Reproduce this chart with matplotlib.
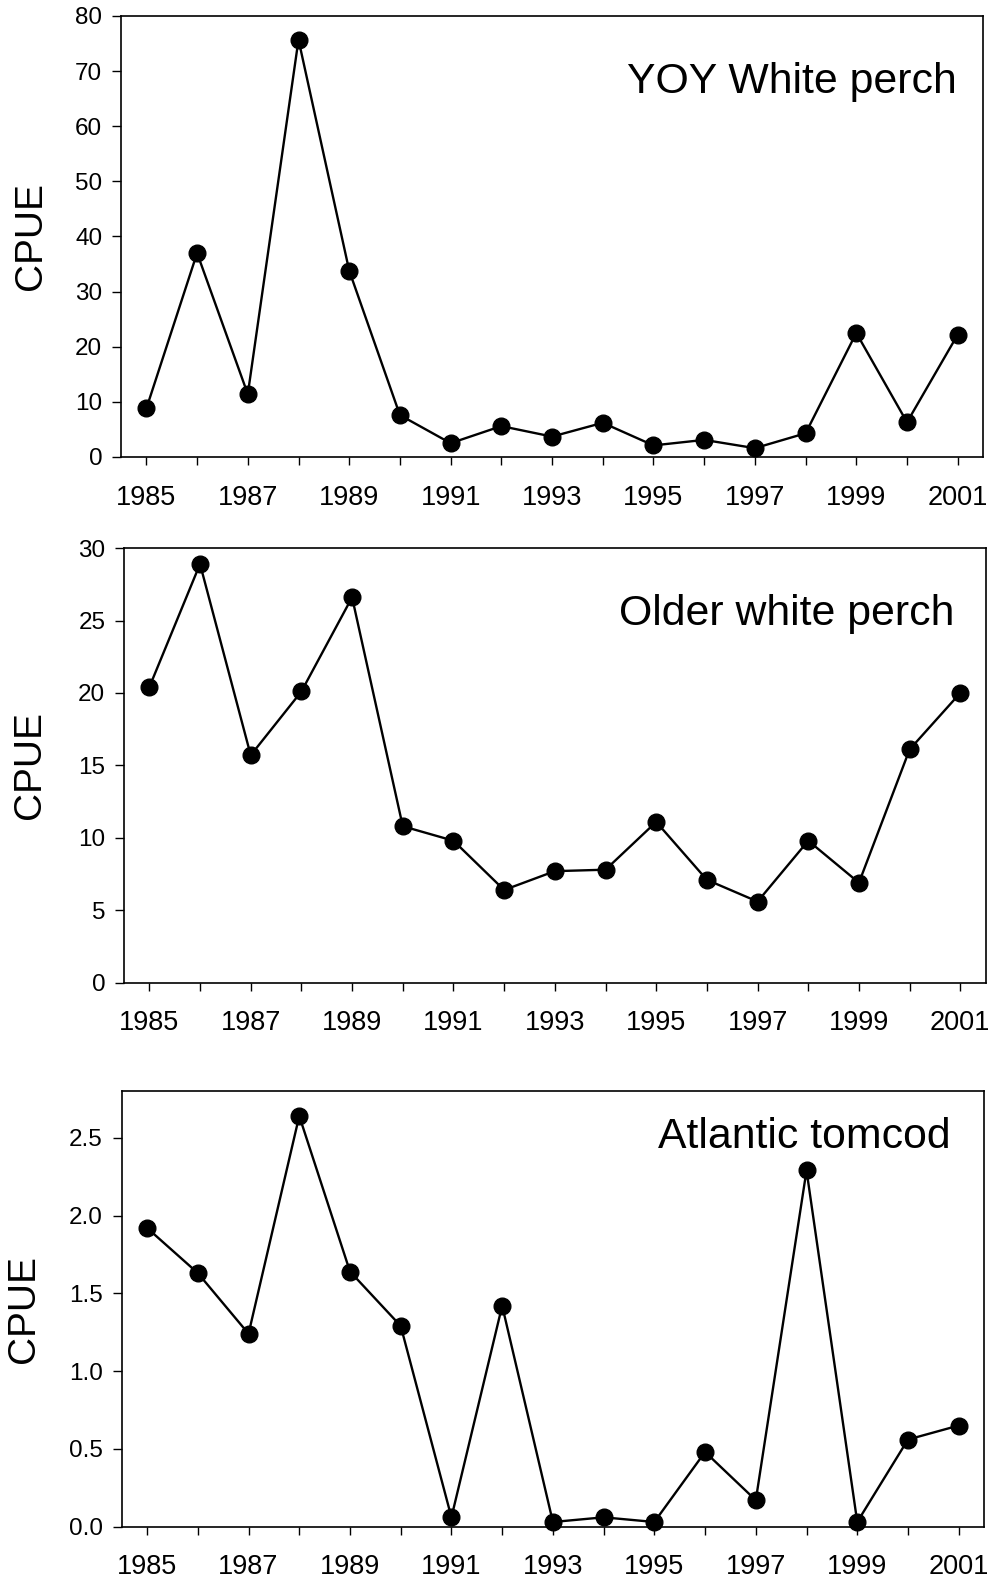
import matplotlib
matplotlib.use("Agg")
import matplotlib.pyplot as plt
import numpy as np

plt.rcParams['font.family'] = ['Liberation Sans', 'DejaVu Sans']

years = list(range(1985, 2002))

# CPUE values
yoy_white_perch = [8.8, 37.0, 11.4, 75.7, 33.8, 7.6, 2.5, 5.6, 3.7, 6.2,
                   2.1, 3.1, 1.6, 4.3, 22.5, 6.3, 22.2]
older_white_perch = [20.4, 28.9, 15.7, 20.1, 26.6, 10.8, 9.8, 6.4, 7.7, 7.8,
                     11.1, 7.1, 5.6, 9.8, 6.9, 16.1, 20.0]
atlantic_tomcod = [1.92, 1.63, 1.24, 2.64, 1.64, 1.29, 0.06, 1.42, 0.03, 0.06,
                   0.03, 0.48, 0.17, 2.29, 0.03, 0.56, 0.65]

titles = ["YOY White perch", "Older white perch", "Atlantic tomcod"]
series = [yoy_white_perch, older_white_perch, atlantic_tomcod]
y_limits = [(0, 80), (0, 30), (0, 2.8)]
y_ticks = [np.arange(0, 81, 10), np.arange(0, 31, 5), np.arange(0, 2.6, 0.5)]
y_fmt = ["{:.0f}", "{:.0f}", "{:.1f}"]

# axes boxes in figure fractions [left, bottom, width, height]
boxes = [[0.122, 0.7115, 0.869, 0.2784],
         [0.125, 0.3796, 0.8686, 0.2744],
         [0.1227, 0.0362, 0.8693, 0.2750]]
title_pos = [(0.970, 0.825), (0.964, 0.823), (0.961, 0.869)]
label_x = [-0.084, -0.088, -0.092]

fig = plt.figure(figsize=(9.92, 15.84), dpi=100)

for i in range(3):
    ax = fig.add_axes(boxes[i])
    ax.plot(years, series[i], color='black', lw=1.7, marker='o',
            markersize=12, markerfacecolor='black', clip_on=False, zorder=3)
    ax.set_xlim(1984.5, 2001.5)
    ax.set_ylim(*y_limits[i])
    ax.set_xticks(years)
    ax.set_xticklabels([str(y) if y % 2 == 1 else "" for y in years])
    ax.set_yticks(y_ticks[i])
    ax.set_yticklabels([y_fmt[i].format(v) for v in y_ticks[i]])
    ax.tick_params(axis='x', direction='out', length=6, width=1,
                   labelsize=19.5, pad=14)
    ax.tick_params(axis='y', direction='out', length=6.5, width=1,
                   labelsize=17.5, pad=7)
    for sp in ax.spines.values():
        sp.set_linewidth(1.2)
    ax.set_ylabel("CPUE", fontsize=28)
    ax.yaxis.set_label_coords(label_x[i], 0.5)
    ax.text(title_pos[i][0], title_pos[i][1], titles[i], transform=ax.transAxes,
            ha='right', va='baseline', fontsize=30.8)

fig.savefig("out.png", dpi=100)
